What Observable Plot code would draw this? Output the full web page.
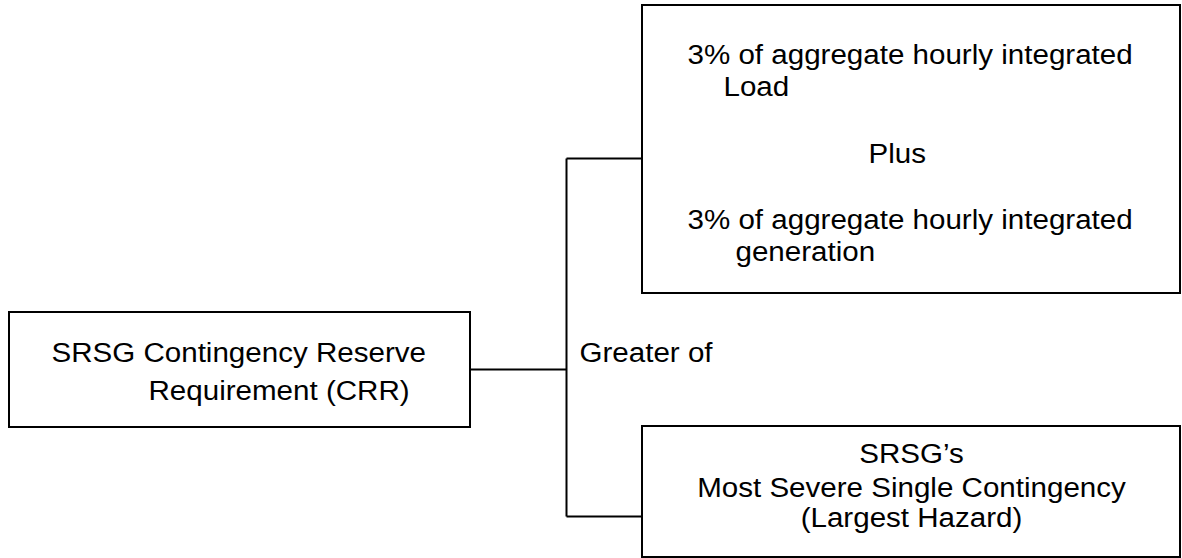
<!DOCTYPE html>
<html>
<head>
<meta charset="utf-8">
<script src="https://cdn.jsdelivr.net/npm/d3@7"></script>
<script src="https://cdn.jsdelivr.net/npm/@observablehq/plot@0.6"></script>
<style>
  html, body { margin: 0; padding: 0; background: #fff; }
  #chart { width: 1182px; height: 558px; overflow: hidden; }
</style>
</head>
<body>
<div id="chart"></div>
<script>
// Diagram layout (diagram units = pixels of the 1182 x 558 canvas)
const boxNames = ["CRR", "Load + Generation", "Largest Hazard"];
const boxLeft   = [9, 642, 642];
const boxRight  = [470, 1180, 1180];
const boxTop    = [312, 5, 426];
const boxBottom = [427, 293, 557];

// Connector segments
const segNames = ["from CRR", "trunk", "to top box", "to bottom box"];
const segX1 = [470, 566, 566, 566];
const segX2 = [566, 566, 642, 642];
const segY1 = [369, 158, 158, 516];
const segY2 = [369, 516, 158, 516];

// Text lines
const lineText = [
  "SRSG Contingency Reserve",
  "Requirement (CRR)",
  "Greater of",
  "3% of aggregate hourly integrated",
  "Load",
  "Plus",
  "3% of aggregate hourly integrated",
  "generation",
  "SRSG\u2019s",
  "Most Severe Single Contingency",
  "(Largest Hazard)"
];
const lineX = [51, 148, 579, 687, 723, 868, 687, 735, 911, 911, 911];
const lineBaseline = [361, 399, 361, 63, 95, 162, 228, 260, 462, 496, 526];
const lineAnchor = ["start", "start", "start", "start", "start", "start", "start", "start", "middle", "middle", "middle"];

const boxes = boxNames.map((name, i) => ({name, x1: boxLeft[i], x2: boxRight[i], y1: boxTop[i], y2: boxBottom[i]}));
const segments = segNames.map((name, i) => ({name, x1: segX1[i], x2: segX2[i], y1: segY1[i], y2: segY2[i]}));
const lines = lineText.map((text, i) => ({text, x: lineX[i], y: lineBaseline[i], anchor: lineAnchor[i]}));

const common = {fontSize: 27, lineAnchor: "bottom", fill: "black"};

const chart = Plot.plot({
  width: 1182,
  height: 558,
  margin: 0,
  style: {fontFamily: "'Liberation Sans', Arial, sans-serif", background: "white", color: "black"},
  x: {domain: [0, 1182], range: [0, 1182], axis: null},
  y: {domain: [0, 558], range: [0, 558], axis: null},
  marks: [
    Plot.link(segments, {x1: "x1", x2: "x2", y1: "y1", y2: "y2", stroke: "black", strokeWidth: 2}),
    Plot.rect(boxes, {x1: "x1", x2: "x2", y1: "y1", y2: "y2", fill: "white", stroke: "black", strokeWidth: 2}),
    Plot.text(lines.filter(d => d.anchor === "start"), {x: "x", y: "y", text: "text", textAnchor: "start", ...common}),
    Plot.text(lines.filter(d => d.anchor === "middle"), {x: "x", y: "y", text: "text", textAnchor: "middle", ...common})
  ]
});

// The reference typeface is slightly wide; stretch glyphs horizontally about their anchors
d3.select(chart).selectAll("text").each(function() {
  const t = this.getAttribute("transform");
  if (t) this.setAttribute("transform", t + " scale(1.095,1)");
});

document.getElementById("chart").appendChild(chart);
</script>
</body>
</html>
